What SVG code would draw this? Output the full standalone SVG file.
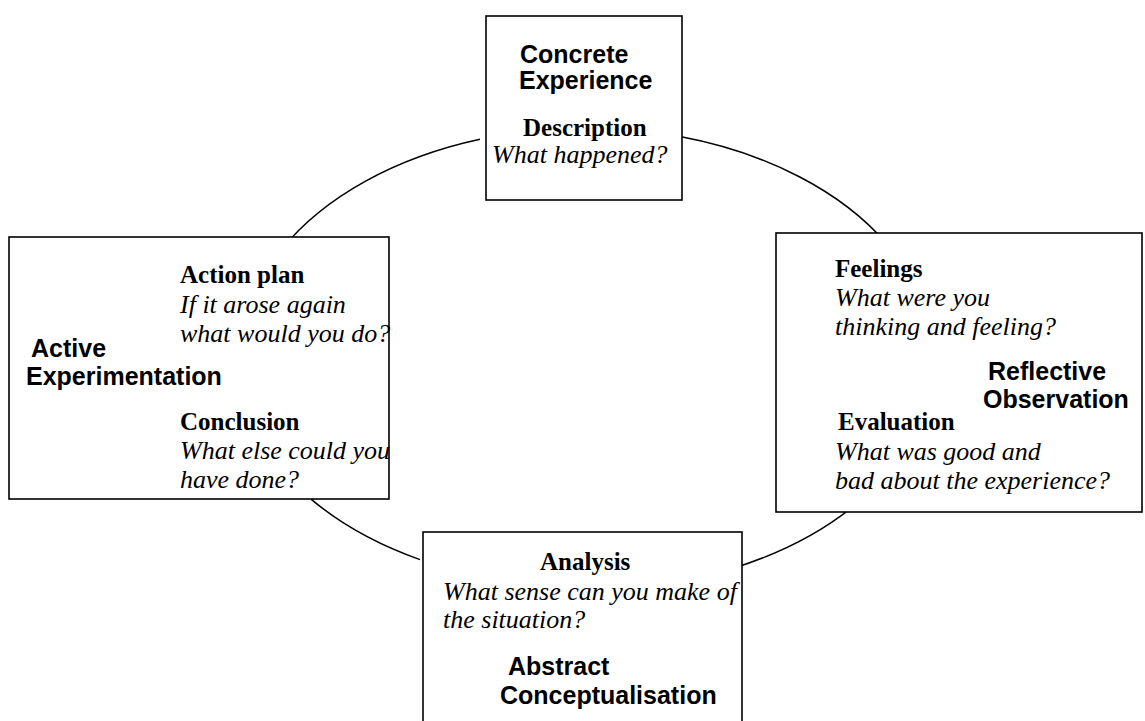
<svg xmlns="http://www.w3.org/2000/svg" width="1145" height="721" viewBox="0 0 1145 721">
  <style>
    .box { fill: #ffffff; stroke: #000000; stroke-width: 1.6; }
    .arc { fill: none; stroke: #000000; stroke-width: 1.5; }
    .stage { font-family: "Liberation Sans", Arial, sans-serif; font-weight: bold; font-size: 25px; fill: #000000; }
    .head { font-family: "Liberation Serif", "Times New Roman", serif; font-weight: bold; font-size: 25px; fill: #000000; }
    .ask { font-family: "Liberation Serif", "Times New Roman", serif; font-style: italic; font-size: 26px; fill: #000000; }
  </style>
  <rect width="1145" height="721" fill="#ffffff"/>

  <!-- cycle arcs: pieces of one ellipse, centre (586.5, 359), radii 346.5 x 231 -->
  <g id="connectors">
    <path class="arc" d="M 282 248.8 A 346.5 231 0 0 1 480 139.2"/>
    <path class="arc" d="M 680 136.6 A 346.5 231 0 0 1 887 244"/>
    <path class="arc" d="M 932.8 345 A 346.5 231 0 0 1 928.9 394.5"/>
    <path class="arc" d="M 863 498.2 A 346.5 231 0 0 1 735 567.7"/>
    <path class="arc" d="M 420 559.6 A 346.5 231 0 0 1 311 499.1"/>
    <path class="arc" d="M 244.6 394 A 346.5 231 0 0 1 240.2 352"/>
  </g>

  <g id="concrete-experience">
    <rect class="box" x="486" y="16" width="196" height="184"/>
    <text class="stage" x="520" y="63">Concrete</text>
    <text class="stage" x="519" y="89">Experience</text>
    <text class="head" x="523" y="136">Description</text>
    <text class="ask" x="492" y="163">What happened?</text>
  </g>

  <g id="active-experimentation">
    <rect class="box" x="9" y="237" width="380" height="262"/>
    <text class="head" x="180" y="283">Action plan</text>
    <text class="ask" x="180" y="313">If it arose again</text>
    <text class="ask" x="180" y="342">what would you do?</text>
    <text class="stage" x="31" y="357">Active</text>
    <text class="stage" x="26" y="385">Experimentation</text>
    <text class="head" x="180" y="430">Conclusion</text>
    <text class="ask" x="180" y="459">What else could you</text>
    <text class="ask" x="180" y="488">have done?</text>
  </g>

  <g id="reflective-observation">
    <rect class="box" x="776" y="233" width="366" height="279"/>
    <text class="head" x="835" y="277">Feelings</text>
    <text class="ask" x="835" y="306">What were you</text>
    <text class="ask" x="835" y="335">thinking and feeling?</text>
    <text class="stage" x="988" y="380">Reflective</text>
    <text class="stage" x="983" y="408">Observation</text>
    <text class="head" x="838" y="430">Evaluation</text>
    <text class="ask" x="835" y="460">What was good and</text>
    <text class="ask" x="835" y="489">bad about the experience?</text>
  </g>

  <g id="abstract-conceptualisation">
    <rect class="box" x="423" y="532" width="319" height="200"/>
    <text class="head" x="540" y="570">Analysis</text>
    <text class="ask" x="443" y="600">What sense can you make of</text>
    <text class="ask" x="443" y="628">the situation?</text>
    <text class="stage" x="508" y="675">Abstract</text>
    <text class="stage" x="500" y="704">Conceptualisation</text>
  </g>
</svg>
